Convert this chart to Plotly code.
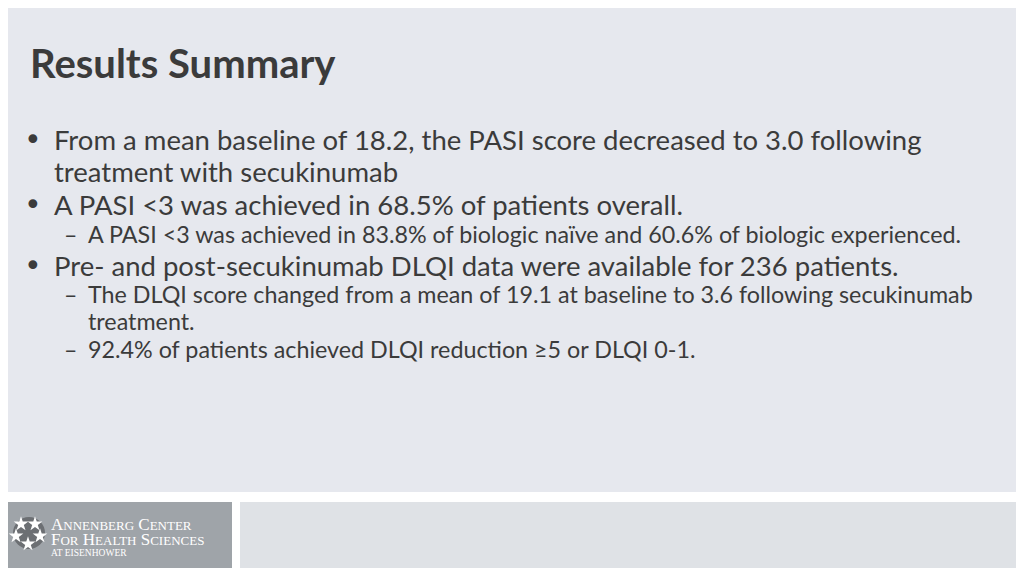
import plotly.graph_objects as go

title = "Results Summary"
# (indent level, text, centre y)
bullets = [
    (0, "From a mean baseline of 18.2, the PASI score decreased to 3.0 following", 139),
    (-1, "treatment with secukinumab", 171),
    (0, "A PASI <3 was achieved in 68.5% of patients overall.", 204),
    (1, "A PASI <3 was achieved in 83.8% of biologic naïve and 60.6% of biologic experienced.", 234),
    (0, "Pre- and post-secukinumab DLQI data were available for 236 patients.", 265),
    (1, "The DLQI score changed from a mean of 19.1 at baseline to 3.6 following secukinumab", 294),
    (-2, "treatment.", 321),
    (1, "92.4% of patients achieved DLQI reduction ≥5 or DLQI 0-1.", 349),
]
star_x = [21, 35, 16, 40, 28]
star_y = [524, 524, 536, 536, 544]

fig = go.Figure()
fig.add_trace(go.Scatter(x=star_x, y=star_y, mode="markers",
                         marker=dict(symbol="star", size=11, color="white", line_width=0),
                         hoverinfo="skip"))

shapes = [
    dict(type="rect", x0=0, x1=1021, y0=0, y1=492, fillcolor="#e6e8ee", line_width=0, layer="below"),
    dict(type="rect", x0=0, x1=232, y0=502, y1=568, fillcolor="#9fa4a9", line_width=0, layer="below"),
    dict(type="rect", x0=240, x1=1024, y0=502, y1=568, fillcolor="#dfe2e6", line_width=0, layer="below"),
    dict(type="circle", x0=13, x1=45, y0=517, y1=549, fillcolor="#6c6f73", line_width=0, layer="below"),
]

font = "Lato"
col = "#3b3b3b"
ann = [dict(x=28, y=63, text="<b>%s</b>" % title, xanchor="left", yanchor="middle",
            showarrow=False, font=dict(family=font, size=40, color=col))]
for lvl, txt, y in bullets:
    if lvl == 0:
        ann.append(dict(x=22, y=y, text="•", xanchor="left", yanchor="middle", showarrow=False,
                        font=dict(family="DejaVu Sans", size=30, color=col)))
    if lvl == 1:
        ann.append(dict(x=62, y=y, text="–", xanchor="left", yanchor="middle", showarrow=False,
                        font=dict(family=font, size=23, color=col)))
    x = {0: 52, -1: 52, 1: 86, -2: 86}[lvl]
    size = 27.5 if lvl in (0, -1) else 23.3
    ann.append(dict(x=x, y=y, text=txt, xanchor="left", yanchor="middle", showarrow=False,
                    font=dict(family=font, size=size, color=col)))

serif = "Liberation Serif"
sc = "<span style='font-size:13px'>%s</span>"
logo_lines = [
    ("A" + sc % "NNENBERG" + " C" + sc % "ENTER", 524, 17),
    ("F" + sc % "OR" + " H" + sc % "EALTH" + " S" + sc % "CIENCES", 539, 17),
    ("AT EISENHOWER", 553, 9.5),
]
for txt, y, size in logo_lines:
    ann.append(dict(x=49, y=y, text=txt, xanchor="left", yanchor="middle", showarrow=False,
                    font=dict(family=serif, size=size, color="white")))

# page has an 8px body margin: shift the axis ranges to compensate
fig.update_layout(
    width=1024, height=575, margin=dict(l=0, r=0, t=0, b=0),
    paper_bgcolor="white", plot_bgcolor="white", showlegend=False,
    xaxis=dict(range=[8, 1032], visible=False, fixedrange=True),
    yaxis=dict(range=[583, 8], visible=False, fixedrange=True),
    shapes=shapes, annotations=ann,
)
fig.write_html("out.html")
